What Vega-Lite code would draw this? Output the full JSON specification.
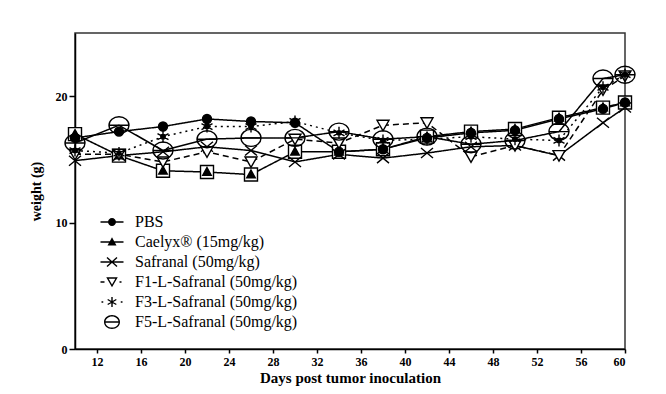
{
  "$schema": "https://vega.github.io/schema/vega-lite/v6.json",
  "width": 550,
  "height": 316,
  "autosize": {"type": "none"},
  "padding": {"left": 75, "top": 33, "right": 41, "bottom": 45},
  "background": "white",
  "config": {
    "view": {"stroke": "#333", "strokeWidth": 1.5},
    "font": "Liberation Serif",
    "axis": {
      "grid": false,
      "labelFont": "Liberation Serif",
      "labelFontWeight": "bold",
      "labelFontSize": 12,
      "labelColor": "black",
      "tickColor": "black",
      "tickWidth": 1.5,
      "domainColor": "black",
      "domainWidth": 1.5,
      "titleFont": "Liberation Serif",
      "titleFontWeight": "bold",
      "titleColor": "black"
    }
  },
  "data": {
    "values": [
      {"s": "PBS", "day": 10, "w": 16.7}, {"s": "PBS", "day": 14, "w": 17.2}, {"s": "PBS", "day": 18, "w": 17.6}, {"s": "PBS", "day": 22, "w": 18.2}, {"s": "PBS", "day": 26, "w": 18.0}, {"s": "PBS", "day": 30, "w": 17.9}, {"s": "PBS", "day": 34, "w": 15.6}, {"s": "PBS", "day": 38, "w": 15.8}, {"s": "PBS", "day": 42, "w": 16.7}, {"s": "PBS", "day": 46, "w": 17.1}, {"s": "PBS", "day": 50, "w": 17.3}, {"s": "PBS", "day": 54, "w": 18.2}, {"s": "PBS", "day": 58, "w": 19.0}, {"s": "PBS", "day": 60, "w": 19.5},
      {"s": "Caelyx® (15mg/kg)", "day": 10, "w": 17.0}, {"s": "Caelyx® (15mg/kg)", "day": 14, "w": 15.3}, {"s": "Caelyx® (15mg/kg)", "day": 18, "w": 14.1}, {"s": "Caelyx® (15mg/kg)", "day": 22, "w": 14.0}, {"s": "Caelyx® (15mg/kg)", "day": 26, "w": 13.8}, {"s": "Caelyx® (15mg/kg)", "day": 30, "w": 15.6}, {"s": "Caelyx® (15mg/kg)", "day": 34, "w": 15.6}, {"s": "Caelyx® (15mg/kg)", "day": 38, "w": 15.8}, {"s": "Caelyx® (15mg/kg)", "day": 42, "w": 16.8}, {"s": "Caelyx® (15mg/kg)", "day": 46, "w": 17.2}, {"s": "Caelyx® (15mg/kg)", "day": 50, "w": 17.4}, {"s": "Caelyx® (15mg/kg)", "day": 54, "w": 18.3}, {"s": "Caelyx® (15mg/kg)", "day": 58, "w": 19.1}, {"s": "Caelyx® (15mg/kg)", "day": 60, "w": 19.5},
      {"s": "Safranal (50mg/kg)", "day": 10, "w": 14.9}, {"s": "Safranal (50mg/kg)", "day": 14, "w": 15.3}, {"s": "Safranal (50mg/kg)", "day": 18, "w": 15.6}, {"s": "Safranal (50mg/kg)", "day": 22, "w": 16.0}, {"s": "Safranal (50mg/kg)", "day": 26, "w": 15.7}, {"s": "Safranal (50mg/kg)", "day": 30, "w": 14.8}, {"s": "Safranal (50mg/kg)", "day": 34, "w": 15.4}, {"s": "Safranal (50mg/kg)", "day": 38, "w": 15.1}, {"s": "Safranal (50mg/kg)", "day": 42, "w": 15.5}, {"s": "Safranal (50mg/kg)", "day": 46, "w": 16.0}, {"s": "Safranal (50mg/kg)", "day": 50, "w": 16.1}, {"s": "Safranal (50mg/kg)", "day": 54, "w": 15.3}, {"s": "Safranal (50mg/kg)", "day": 58, "w": 17.9}, {"s": "Safranal (50mg/kg)", "day": 60, "w": 19.1},
      {"s": "F1-L-Safranal (50mg/kg)", "day": 10, "w": 15.4}, {"s": "F1-L-Safranal (50mg/kg)", "day": 14, "w": 15.4}, {"s": "F1-L-Safranal (50mg/kg)", "day": 18, "w": 14.8}, {"s": "F1-L-Safranal (50mg/kg)", "day": 22, "w": 15.6}, {"s": "F1-L-Safranal (50mg/kg)", "day": 26, "w": 14.8}, {"s": "F1-L-Safranal (50mg/kg)", "day": 30, "w": 16.6}, {"s": "F1-L-Safranal (50mg/kg)", "day": 34, "w": 16.3}, {"s": "F1-L-Safranal (50mg/kg)", "day": 38, "w": 17.7}, {"s": "F1-L-Safranal (50mg/kg)", "day": 42, "w": 17.9}, {"s": "F1-L-Safranal (50mg/kg)", "day": 46, "w": 15.2}, {"s": "F1-L-Safranal (50mg/kg)", "day": 50, "w": 16.1}, {"s": "F1-L-Safranal (50mg/kg)", "day": 54, "w": 15.3}, {"s": "F1-L-Safranal (50mg/kg)", "day": 58, "w": 20.5}, {"s": "F1-L-Safranal (50mg/kg)", "day": 60, "w": 21.6},
      {"s": "F3-L-Safranal (50mg/kg)", "day": 10, "w": 15.7}, {"s": "F3-L-Safranal (50mg/kg)", "day": 14, "w": 15.5}, {"s": "F3-L-Safranal (50mg/kg)", "day": 18, "w": 16.8}, {"s": "F3-L-Safranal (50mg/kg)", "day": 22, "w": 17.6}, {"s": "F3-L-Safranal (50mg/kg)", "day": 26, "w": 17.6}, {"s": "F3-L-Safranal (50mg/kg)", "day": 30, "w": 18.0}, {"s": "F3-L-Safranal (50mg/kg)", "day": 34, "w": 17.1}, {"s": "F3-L-Safranal (50mg/kg)", "day": 38, "w": 16.5}, {"s": "F3-L-Safranal (50mg/kg)", "day": 42, "w": 16.6}, {"s": "F3-L-Safranal (50mg/kg)", "day": 46, "w": 16.8}, {"s": "F3-L-Safranal (50mg/kg)", "day": 50, "w": 16.6}, {"s": "F3-L-Safranal (50mg/kg)", "day": 54, "w": 16.5}, {"s": "F3-L-Safranal (50mg/kg)", "day": 58, "w": 20.7}, {"s": "F3-L-Safranal (50mg/kg)", "day": 60, "w": 21.7},
      {"s": "F5-L-Safranal (50mg/kg)", "day": 10, "w": 16.3}, {"s": "F5-L-Safranal (50mg/kg)", "day": 14, "w": 17.7}, {"s": "F5-L-Safranal (50mg/kg)", "day": 18, "w": 15.7}, {"s": "F5-L-Safranal (50mg/kg)", "day": 22, "w": 16.6}, {"s": "F5-L-Safranal (50mg/kg)", "day": 26, "w": 16.7}, {"s": "F5-L-Safranal (50mg/kg)", "day": 30, "w": 16.7}, {"s": "F5-L-Safranal (50mg/kg)", "day": 34, "w": 17.2}, {"s": "F5-L-Safranal (50mg/kg)", "day": 38, "w": 16.6}, {"s": "F5-L-Safranal (50mg/kg)", "day": 42, "w": 16.8}, {"s": "F5-L-Safranal (50mg/kg)", "day": 46, "w": 16.2}, {"s": "F5-L-Safranal (50mg/kg)", "day": 50, "w": 16.5}, {"s": "F5-L-Safranal (50mg/kg)", "day": 54, "w": 17.2}, {"s": "F5-L-Safranal (50mg/kg)", "day": 58, "w": 21.4}, {"s": "F5-L-Safranal (50mg/kg)", "day": 60, "w": 21.7}
    ]
  },
  "encoding": {
    "x": {
      "field": "day", "type": "quantitative",
      "scale": {"domain": [10, 60], "nice": false, "zero": false},
      "axis": {"values": [12, 16, 20, 24, 28, 32, 36, 40, 44, 48, 52, 56, 60], "title": "Days post tumor inoculation", "titleFontSize": 15, "titlePadding": 3, "tickSize": 4, "labelPadding": 3}
    },
    "y": {
      "field": "w", "type": "quantitative",
      "scale": {"domain": [0, 25], "nice": false},
      "axis": {"values": [0, 10, 20], "title": "weight (g)", "titleFontSize": 14, "titlePadding": 12, "tickSize": 6, "labelPadding": 2}
    }
  },
  "layer": [
    {
      "mark": {"type": "line", "stroke": "black", "strokeWidth": 1.5},
      "encoding": {
        "detail": {"field": "s"},
        "strokeDash": {
          "field": "s", "type": "nominal", "legend": null,
          "scale": {
            "domain": ["PBS", "Caelyx® (15mg/kg)", "Safranal (50mg/kg)", "F1-L-Safranal (50mg/kg)", "F3-L-Safranal (50mg/kg)", "F5-L-Safranal (50mg/kg)"],
            "range": [[1, 0], [1, 0], [1, 0], [6, 4], [2, 4], [1, 0]]
          }
        }
      }
    },
    {
      "transform": [{"filter": "datum.s === 'Caelyx® (15mg/kg)'"}],
      "mark": {"type": "point", "shape": "square", "size": 169, "filled": true, "fill": "white", "stroke": "black", "strokeWidth": 1.4, "opacity": 1}
    },
    {
      "mark": {"type": "point", "filled": true, "size": 100, "stroke": "black", "strokeWidth": 1.4, "opacity": 1},
      "encoding": {
        "shape": {
          "field": "s", "type": "nominal", "legend": null,
          "scale": {
            "domain": ["PBS", "Caelyx® (15mg/kg)", "Safranal (50mg/kg)", "F1-L-Safranal (50mg/kg)", "F3-L-Safranal (50mg/kg)", "F5-L-Safranal (50mg/kg)"],
            "range": [
              "M-0.9,0A0.9,0.9,0,1,0,0.9,0A0.9,0.9,0,1,0,-0.9,0Z",
              "M0,-0.9L0.85,0.65L-0.85,0.65Z",
              "M-1.2,-1L1.2,1M-1.2,1L1.2,-1",
              "M-1.2,-1L1.2,-1L0,1.1Z",
              "M0,-1.2L0,1.2M-1.1,-0.6L1.1,0.6M-1.1,0.6L1.1,-0.6M-0.45,0A0.45,0.45,0,1,0,0.45,0A0.45,0.45,0,1,0,-0.45,0Z",
              "M-2,0A2,1.7,0,1,0,2,0A2,1.7,0,1,0,-2,0ZM-2,0L2,0"
            ]
          }
        },
        "fill": {
          "field": "s", "type": "nominal", "legend": null,
          "scale": {
            "domain": ["PBS", "Caelyx® (15mg/kg)", "Safranal (50mg/kg)", "F1-L-Safranal (50mg/kg)", "F3-L-Safranal (50mg/kg)", "F5-L-Safranal (50mg/kg)"],
            "range": ["black", "black", "transparent", "white", "black", "transparent"]
          }
        }
      }
    },
    {
      "mark": {"type": "point", "filled": true, "fill": "black", "size": 100, "opacity": 0},
      "encoding": {
        "shape": {
          "field": "s", "type": "nominal",
          "scale": {
            "domain": ["PBS", "Caelyx® (15mg/kg)", "Safranal (50mg/kg)", "F1-L-Safranal (50mg/kg)", "F3-L-Safranal (50mg/kg)", "F5-L-Safranal (50mg/kg)"],
            "range": [
              "M-2.3,-0.14H2.3V0.14H-2.3ZM-0.8,0A0.8,0.8,0,1,1,0.8,0A0.8,0.8,0,1,1,-0.8,0Z",
              "M-2.3,-0.14H2.3V0.14H-2.3ZM0,-0.95L0.9,0.7L-0.9,0.7Z",
              "M-2.3,-0.14H2.3V0.14H-2.3ZM-1.094,-0.796L-0.906,-1.004L1.094,0.796L0.906,1.004ZM0.906,-1.004L1.094,-0.796L-0.906,1.004L-1.094,0.796Z",
              "M-2.3,-0.14H-1.5V0.14H-2.3ZM1.5,-0.14H1.9V0.14H1.5ZM-1.15,-0.95L1.15,-0.95L0,1.05ZM-0.666,-0.67L0,0.488L0.666,-0.67Z",
              "M-2.1,-0.14H-1.75V0.14H-2.1ZM1.75,-0.14H2.1V0.14H1.75ZM-0.14,-1H0.14V1H-0.14ZM-0.936,-0.379L-0.796,-0.621L0.936,0.379L0.796,0.621ZM0.796,-0.621L0.936,-0.379L-0.796,0.621L-0.936,0.379ZM-0.35,0A0.35,0.35,0,1,1,0.35,0A0.35,0.35,0,1,1,-0.35,0Z",
              "M-1.6,0A1.6,1.4,0,1,1,1.6,0A1.6,1.4,0,1,1,-1.6,0ZM-1.32,0A1.32,1.12,0,1,0,1.32,0A1.32,1.12,0,1,0,-1.32,0ZM-1.45,-0.14H1.45V0.14H-1.45Z"
            ]
          },
          "legend": {
            "title": null,
            "orient": "none",
            "legendX": 29,
            "legendY": 181,
            "padding": 0,
            "symbolSize": 100,
            "symbolOpacity": 1,
            "symbolFillColor": "black",
            "symbolStrokeColor": "transparent",
            "symbolStrokeWidth": 0,
            "labelFont": "Liberation Serif",
            "labelFontSize": 16,
            "labelColor": "black",
            "labelOffset": 15,
            "rowPadding": 4,
            "labelLimit": 400
          }
        }
      }
    }
  ],
  "resolve": {"scale": {"shape": "independent", "fill": "independent"}}
}
